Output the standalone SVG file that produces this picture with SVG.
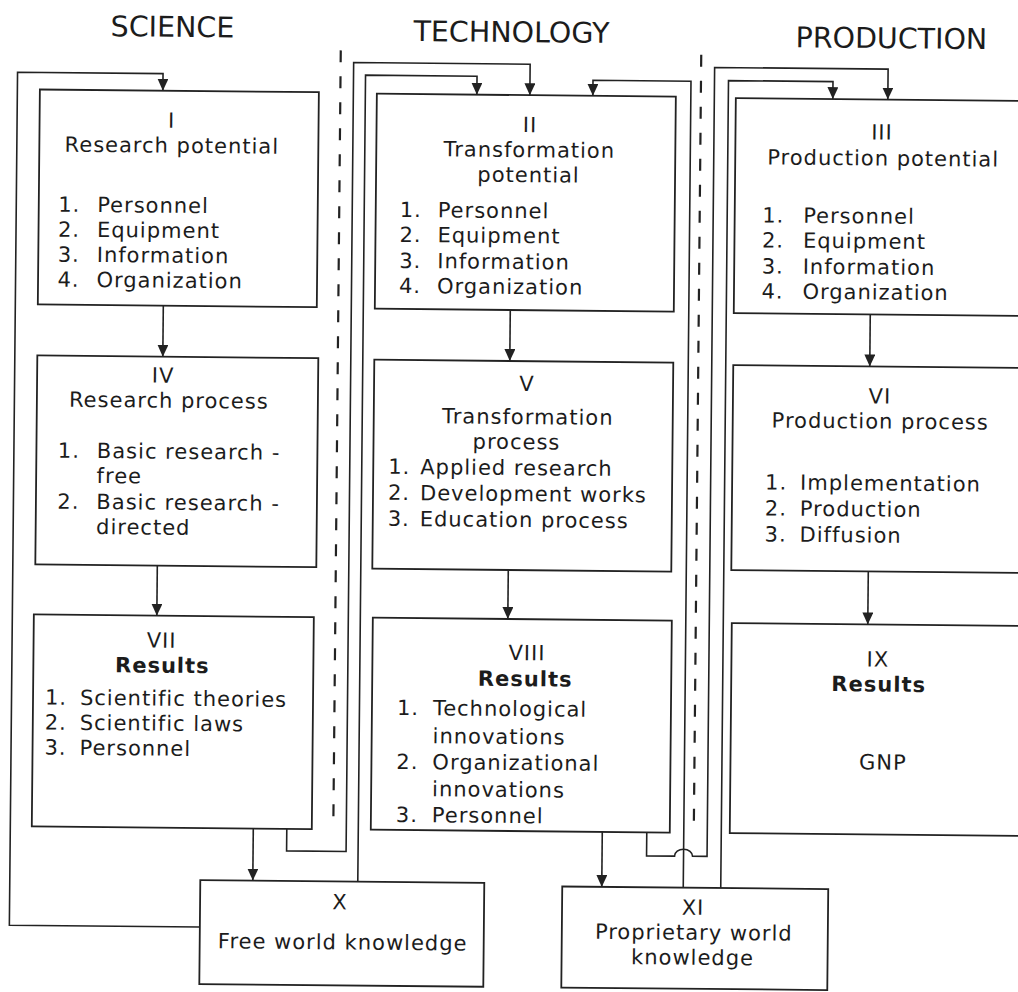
<svg xmlns="http://www.w3.org/2000/svg" width="1018" height="992" viewBox="0 0 1018 992">
<style>
.box{fill:#fff;stroke:#222;stroke-width:1.8}
.ln{fill:none;stroke:#222;stroke-width:1.6}
.dash{fill:none;stroke:#222;stroke-width:2.2;stroke-dasharray:12 14}
text{font-family:"DejaVu Sans",sans-serif;font-size:21px;letter-spacing:1px;fill:#1c1c1c}
.t{font-size:28.5px;letter-spacing:0}
.c{text-anchor:middle}
.b{font-weight:bold}
</style>
<defs>
<marker id="ah" markerUnits="userSpaceOnUse" markerWidth="13" markerHeight="11" refX="12" refY="5.5" orient="auto">
<path d="M0,0 L12,5.5 L0,11 z" fill="#222"/>
</marker>
</defs>
<rect width="1018" height="992" fill="#fff"/>
<g transform="rotate(0.55 509 496)">
<g id="titles">
<text class="t c" x="168" y="40">SCIENCE</text>
<text class="t c" x="507" y="42">TECHNOLOGY</text>
<text class="t c" x="887" y="44.5">PRODUCTION</text>
</g>
<g id="connectors">
<path class="dash" d="M336.5,52 V832"/>
<path class="dash" d="M697,53 V828"/>
<path class="ln" marker-end="url(#ah)" d="M204,930 H13.5 V77 H159 V94"/>
<path class="ln" marker-end="url(#ah)" d="M161.5,309 V360"/>
<path class="ln" marker-end="url(#ah)" d="M158,569 V619"/>
<path class="ln" marker-end="url(#ah)" d="M256.5,831 V883"/>
<path class="ln" marker-end="url(#ah)" d="M290,831 V853 H349.5 V64 H526 V95"/>
<path class="ln" marker-end="url(#ah)" d="M361.5,883 V76.5 H473 V95"/>
<path class="ln" marker-end="url(#ah)" d="M687,886 V79.5 H589 V95"/>
<path class="ln" marker-end="url(#ah)" d="M650,831 V854.5 H678 A9,7 0 0 1 696,854.5 H710.5 V65.5 H884 V96"/>
<path class="ln" marker-end="url(#ah)" d="M724.5,886 V78.5 H829 V96"/>
<path class="ln" marker-end="url(#ah)" d="M508.5,310 V361"/>
<path class="ln" marker-end="url(#ah)" d="M509,570 V619"/>
<path class="ln" marker-end="url(#ah)" d="M605.5,831 V886"/>
<path class="ln" marker-end="url(#ah)" d="M868.5,311 V363"/>
<path class="ln" marker-end="url(#ah)" d="M869,568 V621"/>
</g>
<g id="node-I">
<rect class="box" x="36" y="94" width="279" height="215"/>
<text class="c" x="168" y="131">I</text>
<text class="c" x="168.5" y="156">Research potential</text>
<text x="55.5" y="216">1.</text><text x="94.5" y="216">Personnel</text>
<text x="55.5" y="241">2.</text><text x="94.5" y="241">Equipment</text>
<text x="55.5" y="266">3.</text><text x="94.5" y="266">Information</text>
<text x="55.5" y="291">4.</text><text x="94.5" y="291">Organization</text>
</g>
<g id="node-IV">
<rect class="box" x="36" y="360" width="281" height="209"/>
<text class="c" x="162" y="386">IV</text>
<text class="c" x="168" y="411">Research process</text>
<text x="57.5" y="462">1.</text><text x="96.5" y="462">Basic research -</text>
<text x="96.5" y="487">free</text>
<text x="57.5" y="513">2.</text><text x="96.5" y="513">Basic research -</text>
<text x="96.5" y="538">directed</text>
</g>
<g id="node-VII">
<rect class="box" x="35" y="619" width="280" height="212"/>
<text class="c" x="163" y="651">VII</text>
<text class="c b" x="164" y="676">Results</text>
<text x="47" y="709">1.</text><text x="82" y="709">Scientific theories</text>
<text x="47" y="734">2.</text><text x="82" y="734">Scientific laws</text>
<text x="47" y="759">3.</text><text x="82" y="759">Personnel</text>
</g>
<g id="node-II">
<rect class="box" x="373" y="95" width="299" height="215"/>
<text class="c" x="526.5" y="132">II</text>
<text class="c" x="526" y="157">Transformation</text>
<text class="c" x="525.5" y="182">potential</text>
<text x="397" y="218">1.</text><text x="435" y="218">Personnel</text>
<text x="397" y="243">2.</text><text x="435" y="243">Equipment</text>
<text x="397" y="269">3.</text><text x="435" y="269">Information</text>
<text x="397" y="294">4.</text><text x="435" y="294">Organization</text>
</g>
<g id="node-V">
<rect class="box" x="373" y="361" width="299" height="209"/>
<text class="c" x="526" y="391">V</text>
<text class="c" x="527" y="424">Transformation</text>
<text class="c" x="516" y="449">process</text>
<text x="388" y="475">1.</text><text x="420" y="475">Applied research</text>
<text x="388" y="501">2.</text><text x="420" y="501">Development works</text>
<text x="388" y="527">3.</text><text x="420" y="527">Education process</text>
</g>
<g id="node-VIII">
<rect class="box" x="374" y="619" width="299" height="212"/>
<text class="c" x="528.5" y="660">VIII</text>
<text class="c b" x="527" y="686">Results</text>
<text x="399" y="716">1.</text><text x="435" y="716">Technological</text>
<text x="435" y="744">innovations</text>
<text x="399" y="770">2.</text><text x="435" y="770">Organizational</text>
<text x="435" y="797">innovations</text>
<text x="399" y="823">3.</text><text x="435" y="823">Personnel</text>
</g>
<g id="node-III">
<rect class="box" x="732" y="96" width="300" height="215"/>
<text class="c" x="878.5" y="136">III</text>
<text class="c" x="880" y="162">Production potential</text>
<text x="759.5" y="220">1.</text><text x="800.5" y="220">Personnel</text>
<text x="759.5" y="245">2.</text><text x="800.5" y="245">Equipment</text>
<text x="759.5" y="271">3.</text><text x="800.5" y="271">Information</text>
<text x="759.5" y="296">4.</text><text x="800.5" y="296">Organization</text>
</g>
<g id="node-VI">
<rect class="box" x="732" y="363" width="300" height="205"/>
<text class="c" x="879" y="400">VI</text>
<text class="c" x="879.5" y="425">Production process</text>
<text x="765" y="487">1.</text><text x="800" y="487">Implementation</text>
<text x="765" y="513">2.</text><text x="800" y="513">Production</text>
<text x="765" y="539">3.</text><text x="800" y="539">Diffusion</text>
</g>
<g id="node-IX">
<rect class="box" x="733" y="621" width="300" height="210"/>
<text class="c" x="879.5" y="663">IX</text>
<text class="c b" x="880.5" y="688">Results</text>
<text class="c" x="885.5" y="766">GNP</text>
</g>
<g id="node-X">
<rect class="box" x="204" y="883" width="284" height="104"/>
<text class="c" x="344" y="911">X</text>
<text class="c" x="347" y="951">Free world knowledge</text>
</g>
<g id="node-XI">
<rect class="box" x="566" y="886" width="266" height="101"/>
<text class="c" x="697" y="913">XI</text>
<text class="c" x="698" y="938">Proprietary world</text>
<text class="c" x="697" y="963">knowledge</text>
</g>
</g>
</svg>
